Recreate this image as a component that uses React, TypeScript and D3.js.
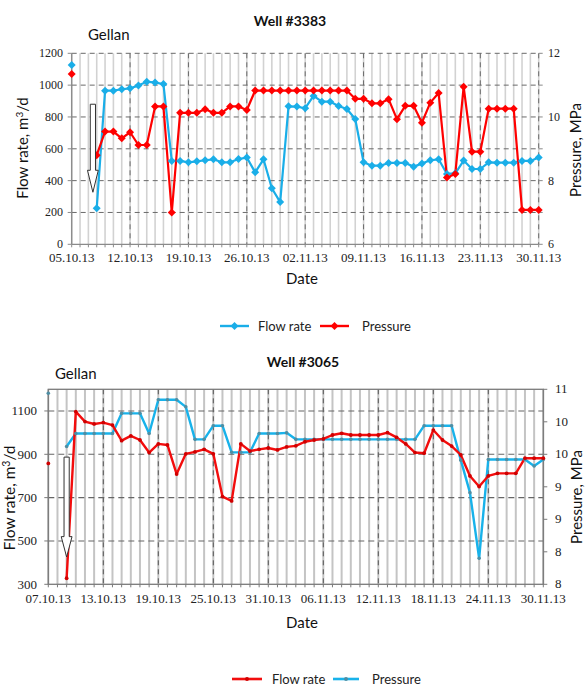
import React from 'react';
import * as d3 from 'd3';

const W = 585;
const H = 689;

const SANS = "Lato, 'Open Sans', sans-serif";
const SERIF = "'Liberation Serif', 'DejaVu Serif', serif";

// ---------- Well #3383 ----------
const w3383Start = '05.10.13';
const w3383End = '30.11.13';
// Daily flow rate, m³/d (null = no measurement)
const w3383Flow: (number | null)[] = [
  1127, null, null, 226, 965, 965, 974, 980, 997, 1022, 1016, 1007, 524, 524,
  515, 521, 528, 534, 515, 515, 536, 545, 452, 534, 352, 265, 867, 865,
  855, 932, 896, 896, 869, 850, 787, 515, 494, 494, 511, 511, 511, 488,
  507, 528, 534, 442, 446, 526, 473, 473, 515, 513, 513, 513, 524, 524, 545,
];
// Daily pressure, MPa
const w3383Pressure: (number | null)[] = [
  11.35, null, null, 8.8, 9.54, 9.54, 9.33, 9.52, 9.12, 9.12, 10.33, 10.33, 7.0, 10.13,
  10.13, 10.13, 10.24, 10.13, 10.13, 10.33, 10.33, 10.22, 10.83, 10.83, 10.83, 10.83, 10.83, 10.83,
  10.83, 10.83, 10.83, 10.83, 10.83, 10.83, 10.57, 10.57, 10.43, 10.43, 10.56, 9.93, 10.35, 10.35,
  9.82, 10.45, 10.75, 8.1, 8.21, 10.95, 8.91, 8.91, 10.26, 10.26, 10.26, 10.26, 7.08, 7.08, 7.08,
];
const w3383DateTicks = ['05.10.13', '12.10.13', '19.10.13', '26.10.13', '02.11.13', '09.11.13', '16.11.13', '23.11.13', '30.11.13'];
const w3383FlowTicks = [0, 200, 400, 600, 800, 1000, 1200];
const w3383PressureTicks = [6, 7, 8, 9, 10, 11, 12];
const w3383PressureLabels = ['6', '', '8', '', '10', '', '12'];
// Injection marker: date offset (days), top, head start, tip in flow units
const w3383Arrow = { day: 2.55, from: 880, head: 465, tip: 327 };

// ---------- Well #3065 ----------
const w3065Start = '07.10.13';
const w3065End = '30.11.13';
// Daily flow rate, m³/d
const w3065Flow: (number | null)[] = [
  858, null, 328, 1097, 1051, 1040, 1046, 1035, 963, 985, 966, 908, 948, 943,
  809, 902, 911, 923, 902, 705, 685, 948, 915, 923, 929, 920, 934, 939,
  958, 966, 971, 989, 997, 989, 989, 989, 989, 1000, 978, 948, 908, 905,
  1012, 966, 938, 897, 800, 751, 800, 812, 812, 812, 882, 882, 882,
];
// Daily pressure, MPa
const w3065Pressure: (number | null)[] = [
  10.94, null, 10.12, 10.32, 10.32, 10.32, 10.32, 10.32, 10.63, 10.63, 10.63, 10.32, 10.84, 10.84,
  10.84, 10.73, 10.23, 10.23, 10.44, 10.44, 10.03, 10.03, 10.03, 10.32, 10.32, 10.32, 10.33, 10.23,
  10.23, 10.23, 10.23, 10.23, 10.23, 10.23, 10.23, 10.23, 10.23, 10.23, 10.23, 10.23, 10.23, 10.44,
  10.44, 10.44, 10.44, 9.91, 9.41, 8.4, 9.92, 9.92, 9.92, 9.92, 9.92, 9.82, 9.92,
];
const w3065DateTicks = ['07.10.13', '13.10.13', '19.10.13', '25.10.13', '31.10.13', '06.11.13', '12.11.13', '18.11.13', '24.11.13', '30.11.13'];
const w3065FlowTicks = [300, 500, 700, 900, 1100];
const w3065PressureTicks = [8, 8.5, 9, 9.5, 10, 10.5, 11];
const w3065PressureLabels = ['8', '8', '9', '9', '10', '10', '11'];
const w3065Arrow = { day: 2, from: 887, head: 520, tip: 426 };

const parseDate = d3.timeParse('%d.%m.%y');

type Pt = { date: Date; v: number | null };

function series(start: string, values: (number | null)[]): Pt[] {
  const s = parseDate(start) as Date;
  return values.map((v, i) => ({ date: d3.timeDay.offset(s, i), v }));
}

function arrowPath(x: number, yFrom: number, yHead: number, yTip: number) {
  const hw = 2.6;
  const HW = 5.4;
  return `M${x - hw},${yFrom}L${x + hw},${yFrom}L${x + hw},${yHead}L${x + HW},${yHead}L${x},${yTip}L${x - HW},${yHead}L${x - hw},${yHead}Z`;
}

function Well3383() {
  const start = parseDate(w3383Start) as Date;
  const end = parseDate(w3383End) as Date;
  const x = d3.scaleTime().domain([start, end]).range([71.7, 538.7]);
  const yL = d3.scaleLinear().domain([0, 1200]).range([244.3, 53.3]);
  const yR = d3.scaleLinear().domain([6, 12]).range([244.3, 53.3]);
  const [x0, x1] = x.range();
  const [yB, yT] = yL.range();
  const days = d3.timeDay.range(start, d3.timeDay.offset(end, 1));
  const flow = series(w3383Start, w3383Flow);
  const pres = series(w3383Start, w3383Pressure);
  const lineL = d3.line<Pt>().defined((d) => d.v != null).x((d) => x(d.date)).y((d) => yL(d.v as number));
  const lineR = d3.line<Pt>().defined((d) => d.v != null).x((d) => x(d.date)).y((d) => yR(d.v as number));
  const diamond = d3.symbol(d3.symbolSquare, 32)() as string;
  const blue = '#1aaee8';
  const red = '#ff0000';
  const ax = x(d3.timeHour.offset(start, w3383Arrow.day * 24));

  return (
    <g>
      <text x={290} y={26} textAnchor="middle" fontFamily={SANS} fontWeight="bold" fontSize={14} fill="#111">Well #3383</text>
      <text x={88} y={40} fontFamily={SANS} fontSize={15} fill="#111">Gellan</text>
      {/* daily grid */}
      {days.map((d, i) => (
        <line key={'d' + i} x1={x(d)} x2={x(d)} y1={yT} y2={yB} stroke="#d2d2d2" strokeWidth={1.6} />
      ))}
      {/* weekly grid */}
      {w3383DateTicks.slice(1).map((t) => {
        const px = x(parseDate(t) as Date);
        return <line key={'w' + t} x1={px} x2={px} y1={yT} y2={yB} stroke="#6a6a6a" strokeWidth={1} strokeDasharray="5,4" />;
      })}
      {w3383FlowTicks.slice(1).map((v) => (
        <line key={'h' + v} x1={x0} x2={x1} y1={yL(v)} y2={yL(v)} stroke="#6a6a6a" strokeWidth={1} strokeDasharray="5,4" />
      ))}
      {/* axes */}
      <line x1={x0} x2={x0} y1={yT} y2={yB} stroke="#8a8a8a" strokeWidth={1.3} />
      <line x1={x0} x2={x1} y1={yB} y2={yB} stroke="#8a8a8a" strokeWidth={1.3} />
      {days.map((d, i) => (
        <line key={'bt' + i} x1={x(d)} x2={x(d)} y1={yB} y2={yB + 3} stroke="#8a8a8a" strokeWidth={1} />
      ))}
      {w3383FlowTicks.map((v) => (
        <g key={'lt' + v}>
          <line x1={x0 - 4} x2={x0} y1={yL(v)} y2={yL(v)} stroke="#8a8a8a" strokeWidth={1} />
          <text x={63} y={yL(v) + 4} textAnchor="end" fontFamily={SERIF} fontSize={12} fill="#222">{v}</text>
        </g>
      ))}
      {w3383PressureTicks.map((v, i) => (
        <g key={'rt' + v}>
          <line x1={x1} x2={x1 + 4} y1={yR(v)} y2={yR(v)} stroke="#8a8a8a" strokeWidth={1} />
          <text x={548} y={yR(v) + 4} fontFamily={SERIF} fontSize={12} fill="#222">{w3383PressureLabels[i]}</text>
        </g>
      ))}
      {w3383DateTicks.map((t) => (
        <text key={'xt' + t} x={x(parseDate(t) as Date)} y={262} textAnchor="middle" fontFamily={SERIF} fontSize={13} fill="#222">{t}</text>
      ))}
      <text x={302} y={284} textAnchor="middle" fontFamily={SANS} fontSize={15} fill="#111">Date</text>
      <text transform={`translate(28,148) rotate(-90)`} textAnchor="middle" fontFamily={SANS} fontSize={15} fill="#111">
        Flow rate, m<tspan dy={-5} fontSize={10}>3</tspan><tspan dy={5}>/d</tspan>
      </text>
      <text transform={`translate(581,150) rotate(-90)`} textAnchor="middle" fontFamily={SANS} fontSize={15} fill="#111">Pressure, MPa</text>
      {/* series */}
      <path d={lineL(flow) as string} fill="none" stroke={blue} strokeWidth={2.2} strokeLinejoin="round" />
      <path d={lineR(pres) as string} fill="none" stroke={red} strokeWidth={2.2} strokeLinejoin="round" />
      {flow.filter((d) => d.v != null).map((d, i) => (
        <path key={'fm' + i} d={diamond} transform={`translate(${x(d.date)},${yL(d.v as number)}) rotate(45)`} fill={blue} />
      ))}
      {pres.filter((d) => d.v != null).map((d, i) => (
        <path key={'pm' + i} d={diamond} transform={`translate(${x(d.date)},${yR(d.v as number)}) rotate(45)`} fill={red} />
      ))}
      <path d={arrowPath(ax, yL(w3383Arrow.from), yL(w3383Arrow.head), yL(w3383Arrow.tip))} fill="#fff" stroke="#333" strokeWidth={1} />
      {/* legend */}
      <line x1={220} x2={249} y1={326} y2={326} stroke={blue} strokeWidth={2.4} />
      <path d={diamond} transform="translate(234.5,326) rotate(45)" fill={blue} />
      <text x={258} y={331} fontFamily={SANS} fontSize={13} fill="#222">Flow rate</text>
      <line x1={320} x2={349} y1={326} y2={326} stroke={red} strokeWidth={2.4} />
      <path d={diamond} transform="translate(334.5,326) rotate(45)" fill={red} />
      <text x={362} y={331} fontFamily={SANS} fontSize={13} fill="#222">Pressure</text>
    </g>
  );
}

function Well3065() {
  const start = parseDate(w3065Start) as Date;
  const end = parseDate(w3065End) as Date;
  const x = d3.scaleTime().domain([start, end]).range([48.3, 543.3]);
  const yL = d3.scaleLinear().domain([300, 1200]).range([584.3, 389.3]);
  const yR = d3.scaleLinear().domain([8, 11]).range([584.3, 389.3]);
  const [x0, x1] = x.range();
  const [yB, yT] = yL.range();
  const days = d3.timeDay.range(start, d3.timeDay.offset(end, 1));
  const flow = series(w3065Start, w3065Flow);
  const pres = series(w3065Start, w3065Pressure);
  const lineL = d3.line<Pt>().defined((d) => d.v != null).x((d) => x(d.date)).y((d) => yL(d.v as number));
  const lineR = d3.line<Pt>().defined((d) => d.v != null).x((d) => x(d.date)).y((d) => yR(d.v as number));
  const blue = '#18b2ea';
  const red = '#f20d0d';
  const ax = x(d3.timeHour.offset(start, w3065Arrow.day * 24));

  return (
    <g>
      <text x={303} y={367} textAnchor="middle" fontFamily={SANS} fontWeight="bold" fontSize={14} fill="#111">Well #3065</text>
      <text x={55} y={379} fontFamily={SANS} fontSize={15} fill="#111">Gellan</text>
      {days.map((d, i) => (
        <line key={'d' + i} x1={x(d)} x2={x(d)} y1={yT} y2={yB} stroke="#c4c4c4" strokeWidth={2} />
      ))}
      {w3065DateTicks.slice(1, -1).map((t) => {
        const px = x(parseDate(t) as Date);
        return <line key={'w' + t} x1={px} x2={px} y1={yT} y2={yB} stroke="#555" strokeWidth={1} strokeDasharray="5,4" />;
      })}
      {w3065FlowTicks.slice(1).map((v) => (
        <line key={'h' + v} x1={x0} x2={x1} y1={yL(v)} y2={yL(v)} stroke="#666" strokeWidth={1.1} strokeDasharray="6,4" />
      ))}
      {/* frame */}
      <rect x={x0} y={yT} width={x1 - x0} height={yB - yT} fill="none" stroke="#7a7a7a" strokeWidth={1.3} />
      {days.map((d, i) => (
        <line key={'bt' + i} x1={x(d)} x2={x(d)} y1={yB} y2={yB + 3} stroke="#7a7a7a" strokeWidth={1} />
      ))}
      {w3065FlowTicks.map((v) => (
        <g key={'lt' + v}>
          <line x1={x0 - 4} x2={x0} y1={yL(v)} y2={yL(v)} stroke="#7a7a7a" strokeWidth={1} />
          <text x={37} y={yL(v) + 4.5} textAnchor="end" fontFamily={SERIF} fontSize={13} fill="#222">{v}</text>
        </g>
      ))}
      {w3065PressureTicks.map((v, i) => (
        <g key={'rt' + v}>
          <line x1={x1} x2={x1 + 4} y1={yR(v)} y2={yR(v)} stroke="#7a7a7a" strokeWidth={1} />
          <text x={555} y={yR(v) + 4} fontFamily={SERIF} fontSize={13} fill="#222">{w3065PressureLabels[i]}</text>
        </g>
      ))}
      {w3065DateTicks.map((t) => (
        <text key={'xt' + t} x={x(parseDate(t) as Date)} y={603} textAnchor="middle" fontFamily={SERIF} fontSize={13} fill="#222">{t}</text>
      ))}
      <text x={302} y={628} textAnchor="middle" fontFamily={SANS} fontSize={15} fill="#111">Date</text>
      <text transform={`translate(15,498) rotate(-90)`} textAnchor="middle" fontFamily={SANS} fontSize={15.5} fill="#111">
        Flow rate, m<tspan dy={-5} fontSize={10.5}>3</tspan><tspan dy={5}>/d</tspan>
      </text>
      <text transform={`translate(582,497) rotate(-90)`} textAnchor="middle" fontFamily={SANS} fontSize={15} fill="#111">Pressure, MPa</text>
      {/* series */}
      <path d={lineR(pres) as string} fill="none" stroke={blue} strokeWidth={2.4} strokeLinejoin="round" />
      <path d={lineL(flow) as string} fill="none" stroke={red} strokeWidth={2.4} strokeLinejoin="round" />
      {pres.filter((d) => d.v != null).map((d, i) => (
        <circle key={'pm' + i} cx={x(d.date)} cy={yR(d.v as number)} r={1.8} fill="#4f8ea3" />
      ))}
      {flow.filter((d) => d.v != null).map((d, i) => (
        <circle key={'fm' + i} cx={x(d.date)} cy={yL(d.v as number)} r={1.9} fill="#d00000" />
      ))}
      <path d={arrowPath(ax, yL(w3065Arrow.from), yL(w3065Arrow.head), yL(w3065Arrow.tip))} fill="#fff" stroke="#333" strokeWidth={1} />
      {/* legend */}
      <line x1={232} x2={262} y1={679} y2={679} stroke={red} strokeWidth={2.6} />
      <circle cx={247} cy={679} r={2} fill="#d00000" />
      <text x={272} y={684} fontFamily={SANS} fontSize={13} fill="#222">Flow rate</text>
      <line x1={333} x2={359} y1={679} y2={679} stroke={blue} strokeWidth={2.6} />
      <circle cx={346} cy={679} r={2} fill="#4f8ea3" />
      <text x={372} y={684} fontFamily={SANS} fontSize={13} fill="#222">Pressure</text>
    </g>
  );
}

export default function App() {
  return (
    <svg width={W} height={H} viewBox={`0 0 ${W} ${H}`} style={{ position: 'absolute', left: 0, top: 0, background: '#fff' }}>
      <rect width={W} height={H} fill="#fff" />
      <Well3383 />
      <Well3065 />
    </svg>
  );
}
